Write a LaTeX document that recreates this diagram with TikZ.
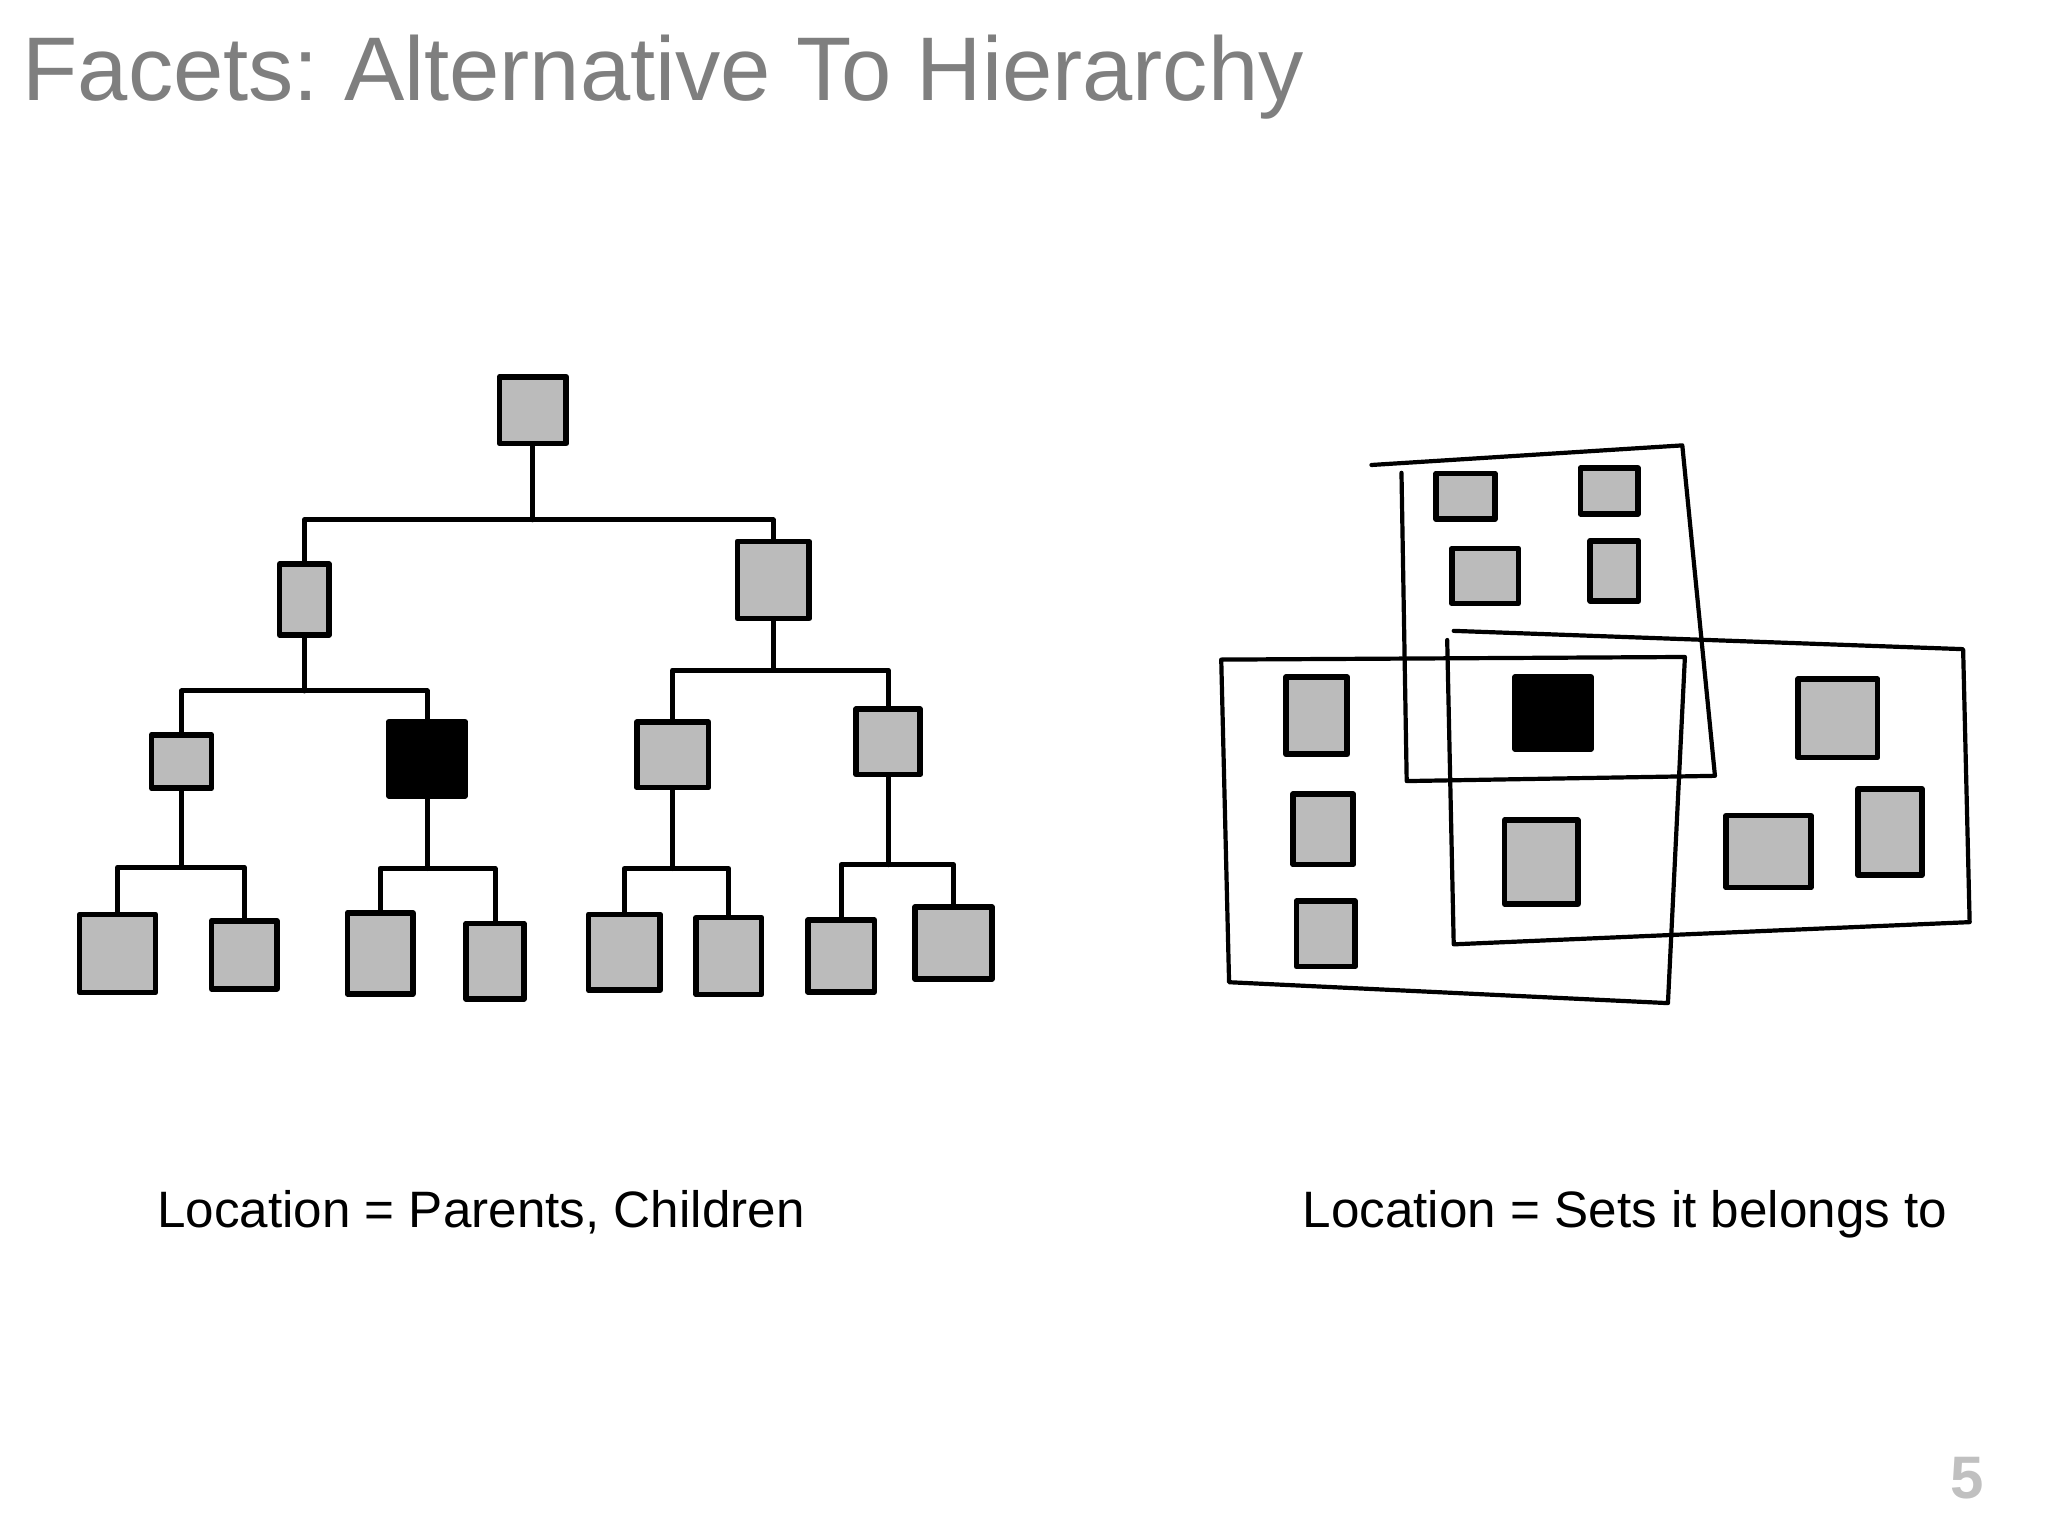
\documentclass[tikz,border=0pt]{standalone}
\usepackage{fontspec}
\setmainfont{Liberation Sans}
\frenchspacing
\definecolor{titlegray}{HTML}{7F7F7F}
\definecolor{boxgray}{HTML}{BBBBBB}
\definecolor{pagegray}{HTML}{C0C0C0}
\tikzset{
	item/.style={draw=black, fill=boxgray, line width=2.8pt, line join=round, inner sep=0pt},
	found/.style={item, fill=black},
	link/.style={line width=2.5pt, line cap=round, line join=round},
	facet/.style={line width=2.1pt, line cap=round, line join=round}
}
\newcommand{\px}{0.65306pt}
% parent, left child, right child, height of the bar
\newcommand{\fork}[4]{%
	\coordinate (#1bar) at (0,#4);
	\draw[link] (#1.south) -- (#1.south |- #1bar)
		(#2.north) |- (#1.south |- #1bar) -| (#3.north);}
\begin{document}
\begin{tikzpicture}[x=0.65306pt,y=-0.65306pt]
	\useasboundingbox (0,0) rectangle (1568,1176);
	% texts
	\node[anchor=base west, inner sep=0pt, text=titlegray, font=\fontsize{45.2}{50}\selectfont] (title) at (17,77) {Facets: Alternative To Hierarchy};
	\node[anchor=base west, inner sep=0pt, font=\fontsize{25.6}{30}\selectfont] (treelabel) at (120,940) {Location = Parents, Children};
	\node[anchor=base west, inner sep=0pt, font=\fontsize{25.6}{30}\selectfont] (setlabel) at (997,940) {Location = Sets it belongs to};
	\node[anchor=base west, inner sep=0pt, text=pagegray, font=\bfseries\fontsize{30}{32}\selectfont] (page) at (1493,1147) {5};
	% hierarchy
	\foreach \n/\x/\y/\w/\h in {root/408/314/51/51,
							pa/233/459/38/54,
							pb/592/444/55/59,
							ca/139/583/46/41,
							cc/515/578/55/50,
							cd/680/568/49/50,
							la/90/730/58/60,
							lb/187/731/50/52,
							lc/291/730/50/62,
							ld/379/736/44/58,
							le/478/729/55/58,
							lf/558/732/50/59,
							lg/644/732/51/55,
							lh/730/722/59/55}
		\node[item, minimum width=\w*\px, minimum height=\h*\px] (\n) at (\x,\y) {};
	\node[found, minimum width=58*\px, minimum height=57*\px] (cb) at (327,581) {};
	\fork{root}{pa}{pb}{398}
	\fork{pa}{ca}{cb}{529}
	\fork{pb}{cc}{cd}{513}
	\fork{ca}{la}{lb}{664}
	\fork{cb}{lc}{ld}{665}
	\fork{cc}{le}{lf}{665}
	\fork{cd}{lg}{lh}{662}
	% facets
	\draw[facet] (1050,356) -- (1288,341) -- (1313,594) -- (1077,598) -- (1073,362);
	\draw[facet] (935,505) -- (1290,503) -- (1277,768) -- (941,752) -- cycle;
	\draw[facet] (1113,483) -- (1503,497) -- (1508,706) -- (1113,723) -- (1108,490);
	\foreach \n/\x/\y/\w/\h in {ta/1122/380/45/35,
							tb/1232/376/44/35,
							tc/1137/441/51/42,
							td/1236/437/37/46,
							sa/1008/548/47/59,
							sb/1013/635/46/54,
							sc/1015/715/45/50,
							ma/1180/660/56/64,
							ra/1407/550/61/60,
							rb/1354/652/65/55,
							rc/1447/637/49/66}
		\node[item, minimum width=\w*\px, minimum height=\h*\px] (\n) at (\x,\y) {};
	\node[found, minimum width=58*\px, minimum height=55*\px] (hit) at (1189,546) {};
\end{tikzpicture}
\end{document}
